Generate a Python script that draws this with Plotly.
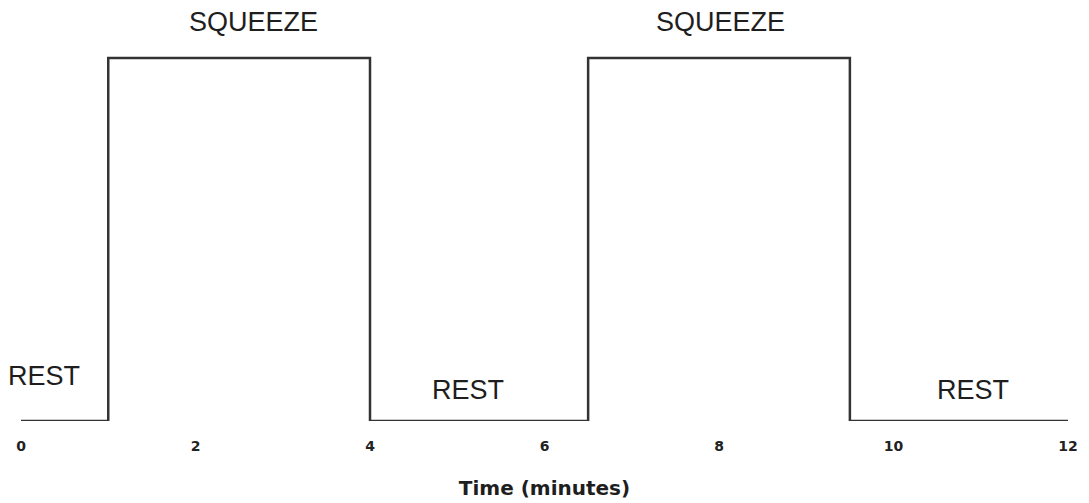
import plotly.graph_objects as go

# step signal: value holds from each time until the next one
time_min = [0, 1, 4, 6.5, 9.5, 12]
level = [0, 1, 0, 1, 0, 0]

phase_labels = ["REST", "SQUEEZE", "REST", "SQUEEZE", "REST"]
phase_x = [0.26, 2.66, 5.12, 8.02, 10.91]
phase_y = [0.124, 1.098, 0.085, 1.098, 0.085]

x_ticks = [0, 2, 4, 6, 8, 10, 12]

fig = go.Figure()

fig.add_trace(go.Scatter(
    x=time_min,
    y=level,
    mode='lines',
    line=dict(color='#333333', width=2.5, shape='hv'),
    cliponaxis=False,
    showlegend=False,
    hoverinfo='skip'
))

for label, lx, ly in zip(phase_labels, phase_x, phase_y):
    fig.add_annotation(
        x=lx, y=ly, text=label, showarrow=False,
        xanchor='center', yanchor='middle',
        font=dict(family='Liberation Sans, Arial', size=27, color='#1e1e1e')
    )

# page body has an 8px margin, so the margins are shifted to compensate
fig.update_layout(
    width=1089,
    height=503,
    margin=dict(l=13, r=29, t=0, b=90),
    plot_bgcolor='white',
    paper_bgcolor='white',
)

fig.update_xaxes(
    range=[0, 12],
    tickmode='array',
    tickvals=x_ticks,
    ticktext=[str(t) for t in x_ticks],
    ticks='outside',
    ticklen=12,
    tickcolor='rgba(0,0,0,0)',
    tickfont=dict(family='DejaVu Sans', size=14, color='#222222', weight='bold'),
    showgrid=False,
    zeroline=False,
    showline=False,
    title=dict(
        text='Time (minutes)',
        font=dict(family='DejaVu Sans', size=20, color='#1e1e1e', weight='bold'),
        standoff=28
    )
)

fig.update_yaxes(
    range=[0, 1.1377],
    visible=False,
    showgrid=False,
    zeroline=False
)

fig.write_html("out.html")
